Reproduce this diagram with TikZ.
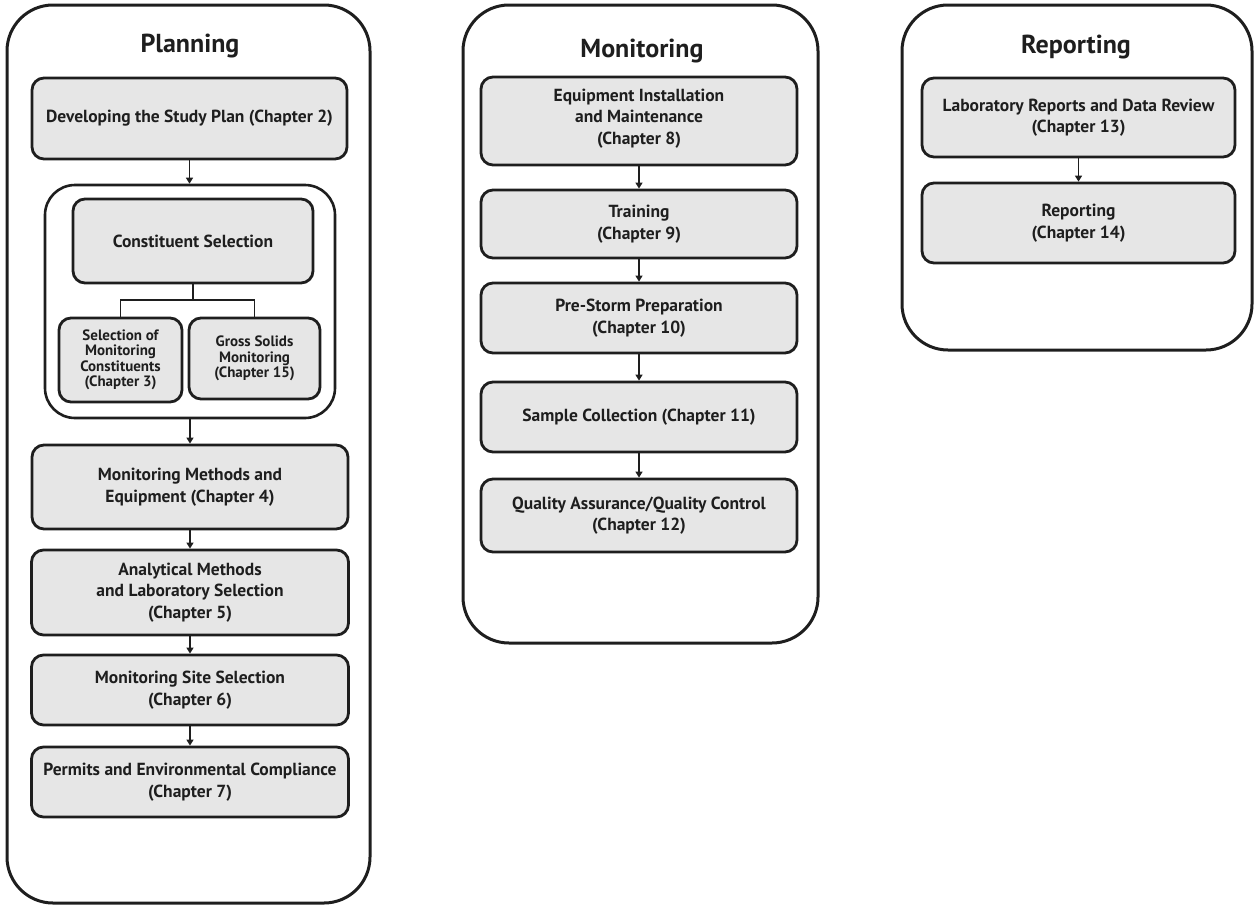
\documentclass[tikz,border=0pt]{standalone}
\usepackage{fontspec}
\setmainfont{PT Sans}
\usetikzlibrary{arrows.meta}
\definecolor{boxfill}{HTML}{E6E6E6}
\definecolor{ink}{HTML}{1E1E1E}
\begin{document}
\begin{tikzpicture}[x=1pt,y=-1pt,
  panel/.style={draw=ink, line width=3pt, rounded corners=46pt},
  group/.style={draw=ink, line width=2.6pt, rounded corners=30pt},
  stepbox/.style={draw=ink, fill=boxfill, line width=2.8pt, rounded corners=12pt,
    align=center, text=ink, inner sep=0pt,
    font=\fontsize{17.5}{21.5}\selectfont\bfseries},
  smallbox/.style={stepbox, font=\fontsize{15}{15.5}\selectfont\bfseries},
  title/.style={anchor=base, text=ink, font=\fontsize{26}{30}\selectfont\bfseries},
  arr/.style={draw=ink, line width=1.4pt, -{Triangle[length=6pt,width=7pt]}},
  link/.style={draw=ink, line width=1.4pt}]
\useasboundingbox (0,0) rectangle (1255,905);

% ---------- Planning ----------
\node[panel, minimum width=363pt, minimum height=898pt] (plan) at (188.5,454) {};
\node[title] (plantitle) at (190,52) {Planning};
\node[stepbox, minimum width=315pt, minimum height=81pt] (dev) at (189.5,118.5)
  {Developing the Study Plan (Chapter 2)};
\node[group, minimum width=290pt, minimum height=233pt] (grp) at (190,301.5) {};
\node[stepbox, minimum width=240pt, minimum height=84pt] (cons) at (193,241)
  {Constituent Selection};
\node[smallbox, minimum width=123pt, minimum height=84pt] (sel) at (120.5,360)
  {Selection of\\Monitoring\\Constituents\\(Chapter 3)};
\node[smallbox, minimum width=131pt, minimum height=81pt] (gross) at (254.5,358.5)
  {Gross Solids\\Monitoring\\(Chapter 15)};
\node[stepbox, minimum width=316pt, minimum height=84pt] (mme) at (190,487)
  {Monitoring Methods and\\Equipment (Chapter 4)};
\node[stepbox, minimum width=317pt, minimum height=85pt] (ana) at (190,592.5)
  {Analytical Methods\\and Laboratory Selection\\(Chapter 5)};
\node[stepbox, minimum width=317pt, minimum height=70pt] (site) at (190,690)
  {Monitoring Site Selection\\(Chapter 6)};
\node[stepbox, minimum width=317pt, minimum height=70pt] (perm) at (190,782)
  {Permits and Environmental Compliance\\(Chapter 7)};

\coordinate (split) at (193,300);
\draw[link] (cons.south) -- (split);
\draw[link] (sel.north) |- (split) -| (gross.north);

\draw[arr] (dev.south) -- (dev.south |- grp.north);
\draw[arr] (grp.south) -- (grp.south |- mme.north);
\draw[arr] (mme.south) -- (mme.south |- ana.north);
\draw[arr] (ana.south) -- (ana.south |- site.north);
\draw[arr] (site.south) -- (site.south |- perm.north);

% ---------- Monitoring ----------
\node[panel, minimum width=355pt, minimum height=638pt] (mon) at (640.5,324) {};
\node[title] (montitle) at (642,57) {Monitoring};
\node[stepbox, minimum width=316pt, minimum height=88pt, text depth=9pt] (equip) at (639,121)
  {Equipment Installation\\and Maintenance\\(Chapter 8)};
\node[stepbox, minimum width=316pt, minimum height=68pt] (train) at (639,224)
  {Training\\(Chapter 9)};
\node[stepbox, minimum width=316pt, minimum height=70pt] (pre) at (639,318)
  {Pre-Storm Preparation\\(Chapter 10)};
\node[stepbox, minimum width=316pt, minimum height=70pt] (samp) at (639,417)
  {Sample Collection (Chapter 11)};
\node[stepbox, minimum width=316pt, minimum height=73pt] (qa) at (639,515.5)
  {Quality Assurance/Quality Control\\(Chapter 12)};

\draw[arr] (equip.south) -- (train.north);
\draw[arr] (train.south) -- (pre.north);
\draw[arr] (pre.south) -- (samp.north);
\draw[arr] (samp.south) -- (qa.north);

% ---------- Reporting ----------
\node[panel, minimum width=350pt, minimum height=345pt] (rpt) at (1077,177.5) {};
\node[title] (rpttitle) at (1076,53) {Reporting};
\node[stepbox, minimum width=313pt, minimum height=79pt] (lab) at (1078.5,117.5)
  {Laboratory Reports and Data Review\\(Chapter 13)};
\node[stepbox, minimum width=313pt, minimum height=80pt] (rep) at (1078.5,223)
  {Reporting\\(Chapter 14)};

\draw[arr] (lab.south) -- (rep.north);
\end{tikzpicture}
\end{document}
